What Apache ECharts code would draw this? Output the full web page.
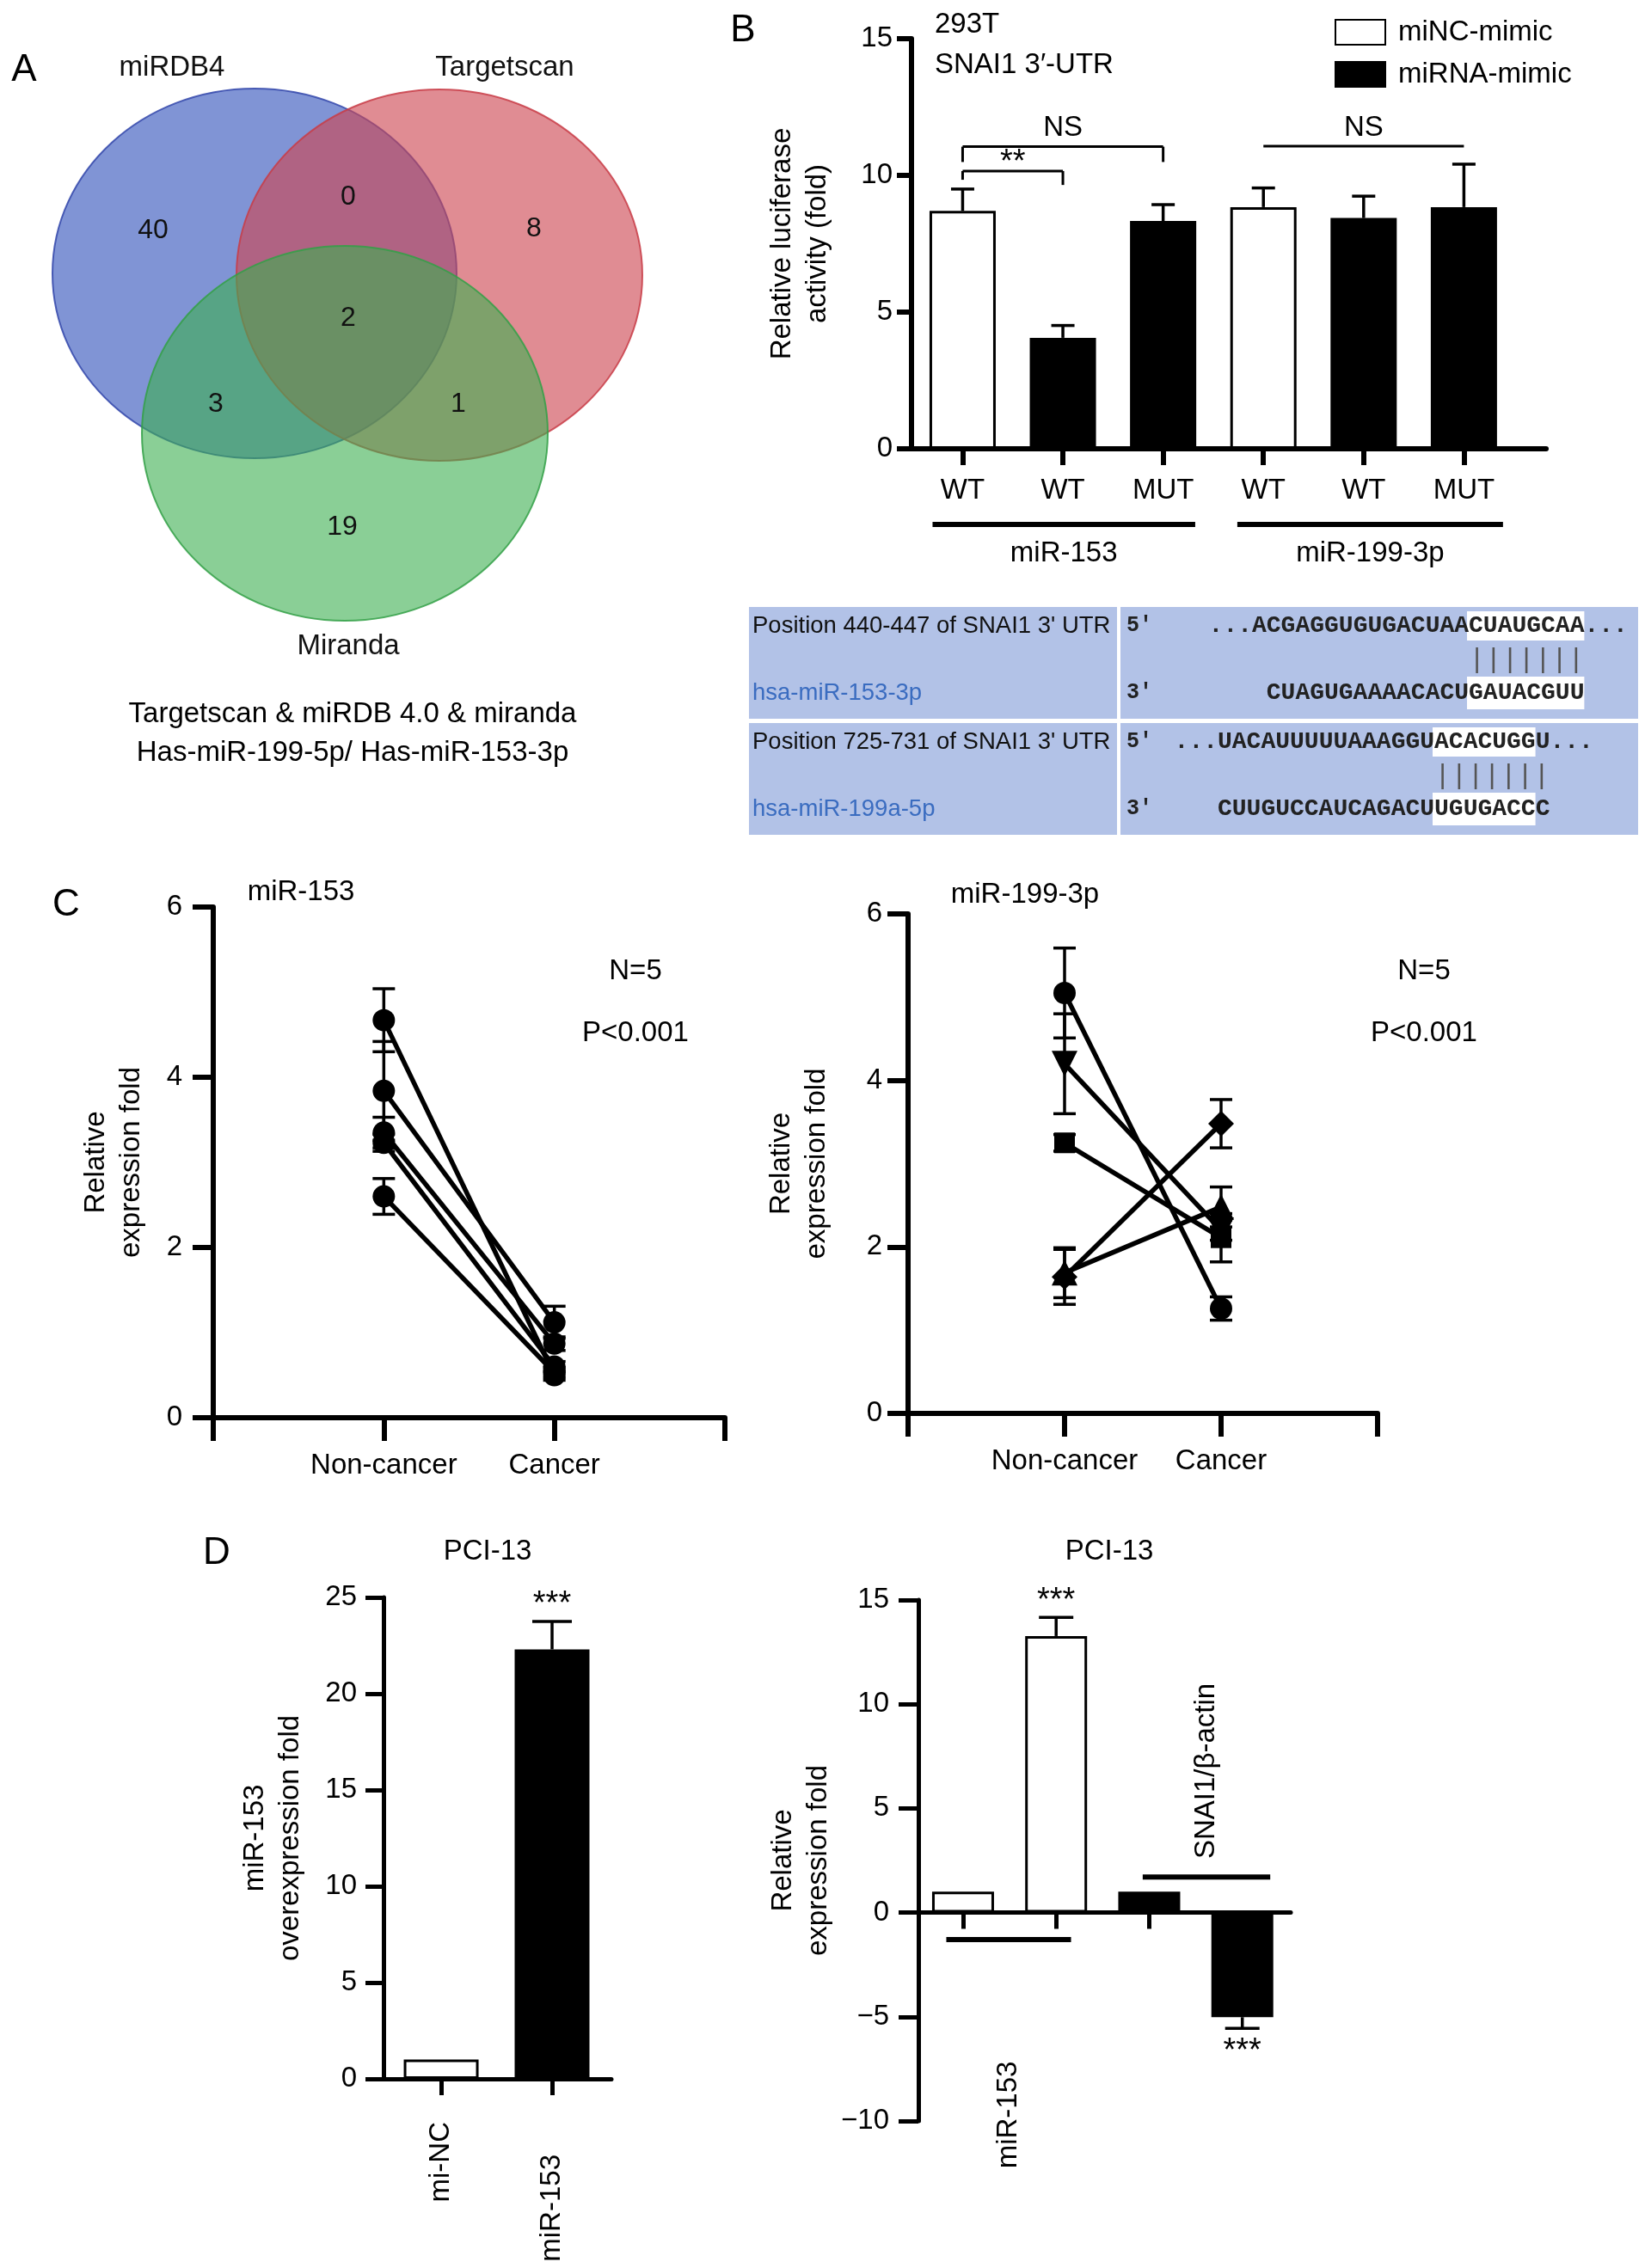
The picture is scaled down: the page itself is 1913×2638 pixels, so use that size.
<!DOCTYPE html>
<html><head><meta charset="utf-8">
<script src="https://cdn.jsdelivr.net/npm/echarts@6/dist/echarts.min.js"></script>
<style>html,body{margin:0;padding:0;background:#fff}#main{width:1913px;height:2638px}</style>
</head><body><div id="main"></div>
<script>
// ================= DATA =================
// Panel A (Venn)
const vennSets = ['miRDB4', 'Targetscan', 'Miranda'];
const vennRegions = ['miRDB4 only', 'miRDB4∩Targetscan', 'Targetscan only', 'all three', 'miRDB4∩Miranda', 'Targetscan∩Miranda', 'Miranda only'];
const vennCounts = [40, 0, 8, 2, 3, 1, 19];
const vennCaption = ['Targetscan & miRDB 4.0 & miranda', 'Has-miR-199-5p/ Has-miR-153-3p'];

// Panel B (luciferase)
const lucCategories = ['WT', 'WT', 'MUT', 'WT', 'WT', 'MUT'];
const lucSeriesNames = ['miNC-mimic', 'miRNA-mimic'];
const lucTreatment = [0, 1, 1, 0, 1, 1];
const lucValues = [8.70, 4.06, 8.33, 8.84, 8.44, 8.84];
const lucErrors = [0.80, 0.45, 0.60, 0.70, 0.80, 1.57];
const lucYTicks = [0, 5, 10, 15];
const lucGroups = ['miR-153', 'miR-199-3p'];
const lucGroupFrom = [-0.30, 2.74];
const lucGroupTo = [2.32, 5.39];
const lucSigText = ['**', 'NS', 'NS'];
const lucSigFrom = [0, 0, 3];
const lucSigTo = [1, 2, 5];
const lucSigLevel = [10.16, 11.05, 11.07];
const lucSigLegLeft = [9.84, 10.49, null];
const lucSigLegRight = [9.65, 10.49, null];

// Panel B (sequence table)
const seqRows = [
  { site: "Position 440-447 of SNAI1 3' UTR", mir: 'hsa-miR-153-3p',
    utrPre: '...ACGAGGUGUGACUAA', utrHl: 'CUAUGCAA', utrPost: '...',
    mirPre: 'CUAGUGAAAACACU', mirHl: 'GAUACGUU', mirPost: '', pairs: '|||||||' },
  { site: "Position 725-731 of SNAI1 3' UTR", mir: 'hsa-miR-199a-5p',
    utrPre: '...UACAUUUUUAAAGGU', utrHl: 'ACACUGG', utrPost: 'U...',
    mirPre: 'CUUGUCCAUCAGACU', mirHl: 'UGUGACC', mirPost: 'C', pairs: '|||||||' }
];

// Panel C
const exprCategories = ['Non-cancer', 'Cancer'];
const exprYTicks = [0, 2, 4, 6];
const c153NonCancer = [4.67, 3.84, 3.35, 3.23, 2.60];
const c153Cancer = [0.50, 1.12, 0.87, 0.60, 0.53];
const c153NonCancerErr = [0.37, 0.58, 0.18, 0.10, 0.21];
const c153CancerErr = [0.06, 0.19, 0.08, 0.06, 0.06];
const c199NonCancer = [5.05, 4.20, 3.25, 1.64, 1.69];
const c199Cancer = [1.26, 2.20, 2.11, 3.48, 2.48];
const c199NonCancerErr = [0.54, 0.60, 0.10, 0.33, 0.30];
const c199CancerErr = [0.14, 0.12, 0.29, 0.29, 0.24];

// Panel D
const pciOverCategories = ['mi-NC', 'miR-153'];
const pciOverValues = [1.0, 22.3];
const pciOverErrors = [0, 1.45];
const pciOverSig = ['', '***'];
const pciOverYTicks = [0, 5, 10, 15, 20, 25];
const pciExprGroups = ['miR-153', 'SNAI1/β-actin'];
const pciExprGroupOf = [0, 0, 1, 1];
const pciExprValues = [1.0, 13.27, 1.0, -5.02];
const pciExprErrors = [0, 0.89, 0, 0.54];
const pciExprSig = ['', '***', '', '***'];
const pciExprYTicks = [-10, -5, 0, 5, 10, 15];
const pciExprGroupFrom = [-0.18, 1.93];
const pciExprGroupTo = [1.16, 3.30];
const pciExprGroupLevel = [-1.3, 1.71];
const pciExprGroupLabelLevel = [-9.71, 6.79];

// ================= STYLE / LAYOUT =================
const FONT = "'Liberation Sans', Arial, Helvetica, sans-serif";
const MONO = "'Liberation Mono', 'DejaVu Sans Mono', monospace";
const FS = 33;
const vennLayout = {
  ellipses: [[296, 318, 235, 215], [511, 320, 236, 216], [401, 504, 236, 218]],
  fills: ['rgba(60,90,190,0.65)', 'rgba(205,70,80,0.62)', 'rgba(60,175,80,0.6)'],
  strokes: ['rgba(50,70,170,0.85)', 'rgba(200,60,70,0.85)', 'rgba(50,160,70,0.85)'],
  countPos: [[178, 268], [405, 229], [621, 266], [405, 370], [251, 470], [533, 470], [398, 613]],
  labelPos: [[200, 79], [587, 79], [405, 752]],
  captionY: [831, 876], captionX: 410
};

const chart = echarts.init(document.getElementById('main'), null, { renderer: 'canvas', width: 1913, height: 2638 });

function yAxisCfg(gi, ticks, name, nameGap, margin, tickLen, lw) {
  return {
    type: 'value', gridIndex: gi, min: ticks[0], max: ticks[ticks.length - 1], interval: ticks[1] - ticks[0],
    axisLine: { show: true, onZero: false, lineStyle: { color: '#000', width: lw } },
    axisTick: { show: true, inside: false, length: tickLen, lineStyle: { color: '#000', width: lw } },
    axisLabel: { color: '#000', fontSize: FS, fontFamily: FONT, margin: margin,
      formatter: v => String(v).replace('-', '\u2212') },
    splitLine: { show: false },
    name: name, nameLocation: 'middle', nameGap: nameGap, nameRotate: 90,
    nameTextStyle: { color: '#000', fontSize: FS, fontFamily: FONT, lineHeight: 41 }
  };
}
function xAxisCfg(gi, min, max, tickVals, labelVals, formatter, margin, tickLen, lw, extraLabel) {
  return {
    type: 'value', gridIndex: gi, min: min, max: max,
    axisLine: { show: true, lineStyle: { color: '#000', width: lw } },
    axisTick: { show: true, inside: false, length: tickLen, customValues: tickVals, lineStyle: { color: '#000', width: lw } },
    axisLabel: Object.assign({ show: labelVals.length > 0, customValues: labelVals, formatter: formatter,
      color: '#000', fontSize: FS, fontFamily: FONT, margin: margin }, extraLabel || {}),
    splitLine: { show: false }
  };
}
function hiddenAxis(gi, min, max, inverse) {
  return { type: 'value', gridIndex: gi, min, max, inverse: !!inverse, show: false,
    axisLine: { show: false }, axisTick: { show: false }, axisLabel: { show: false }, splitLine: { show: false } };
}

function errSeries(gi, points, o) {
  // points: [x, value, errUp, errDown]
  return {
    type: 'custom', xAxisIndex: gi, yAxisIndex: gi, clip: false, z: o.z || 2, silent: true,
    data: points,
    renderItem(params, api) {
      const x = api.value(0), v = api.value(1), eu = api.value(2), ed = api.value(3);
      const p = api.coord([x, v]);
      const half = o.cap / 2;
      const st = { stroke: '#000', lineWidth: o.lw, fill: null };
      const ch = [];
      let top = p[1], bot = p[1];
      if (eu > 0) {
        const q = api.coord([x, v + eu]); top = q[1];
        ch.push({ type: 'line', shape: { x1: p[0], y1: p[1], x2: q[0], y2: q[1] }, style: st });
        ch.push({ type: 'line', shape: { x1: q[0] - half, y1: q[1], x2: q[0] + half, y2: q[1] }, style: st });
      }
      if (ed > 0) {
        const q = api.coord([x, v - ed]); bot = q[1];
        ch.push({ type: 'line', shape: { x1: p[0], y1: p[1], x2: q[0], y2: q[1] }, style: st });
        ch.push({ type: 'line', shape: { x1: q[0] - half, y1: q[1], x2: q[0] + half, y2: q[1] }, style: st });
      }
      const s = o.sig ? o.sig[params.dataIndex] : '';
      if (s) {
        if (v >= 0) ch.push({ type: 'text', x: p[0], y: top - o.sigGap, style: { text: s, fontSize: o.sigSize, fontFamily: FONT, fill: '#000', align: 'center', verticalAlign: 'bottom' } });
        else ch.push({ type: 'text', x: p[0], y: bot + o.sigGapBelow, style: { text: s, fontSize: o.sigSize, fontFamily: FONT, fill: '#000', align: 'center', verticalAlign: 'top' } });
      }
      return { type: 'group', children: ch };
    }
  };
}

// ---------- series ----------
const series = [];

// Venn ellipses
series.push({
  type: 'custom', xAxisIndex: 0, yAxisIndex: 0, clip: false, silent: true, z: 1,
  data: vennSets.map((n, i) => ({ name: n, value: vennLayout.ellipses[i] })),
  renderItem(params, api) {
    const i = params.dataIndex;
    const c = api.coord([api.value(0), api.value(1)]);
    const s = api.size([api.value(2), api.value(3)]);
    return { type: 'ellipse', shape: { cx: c[0], cy: c[1], rx: Math.abs(s[0]), ry: Math.abs(s[1]) },
      style: { fill: vennLayout.fills[i], stroke: vennLayout.strokes[i], lineWidth: 2 } };
  }
});
// Venn counts + set names
series.push({
  type: 'custom', xAxisIndex: 0, yAxisIndex: 0, clip: false, silent: true, z: 5,
  data: vennCounts.map((c, i) => ({ name: vennRegions[i], value: [vennLayout.countPos[i][0], vennLayout.countPos[i][1], c] })),
  renderItem(params, api) {
    const c = api.coord([api.value(0), api.value(1)]);
    return { type: 'text', x: c[0], y: c[1], style: { text: String(api.value(2)), fontSize: 32, fontFamily: FONT, fill: '#111', align: 'center', verticalAlign: 'middle' } };
  }
});
series.push({
  type: 'custom', xAxisIndex: 0, yAxisIndex: 0, clip: false, silent: true, z: 5,
  data: vennSets.map((n, i) => ({ name: n, value: vennLayout.labelPos[i] })),
  renderItem(params, api) {
    const c = api.coord([api.value(0), api.value(1)]);
    return { type: 'text', x: c[0], y: c[1], style: { text: vennSets[params.dataIndex], fontSize: FS, fontFamily: FONT, fill: '#111', align: 'center', verticalAlign: 'middle' } };
  }
});

// Panel B bars
lucSeriesNames.forEach((name, s) => {
  series.push({
    type: 'bar', name: name, xAxisIndex: 1, yAxisIndex: 1, barWidth: 77, barGap: '-100%', z: 3,
    itemStyle: { color: s === 0 ? '#fff' : '#000', borderColor: '#000', borderWidth: 3 },
    data: lucValues.map((v, i) => [i, v]).filter((d, i) => lucTreatment[i] === s),
    silent: true
  });
});
series.push(errSeries(1, lucValues.map((v, i) => [i, v, lucErrors[i], 0]), { cap: 27, lw: 3.5 }));
// significance brackets
series.push({
  type: 'custom', xAxisIndex: 1, yAxisIndex: 1, clip: false, silent: true, z: 4,
  data: lucSigText.map((t, i) => [lucSigFrom[i], lucSigTo[i], lucSigLevel[i]]),
  renderItem(params, api) {
    const i = params.dataIndex;
    const a = api.coord([api.value(0), api.value(2)]), b = api.coord([api.value(1), api.value(2)]);
    const st = { stroke: '#000', lineWidth: 3, fill: null };
    const ch = [{ type: 'line', shape: { x1: a[0], y1: a[1], x2: b[0], y2: b[1] }, style: st }];
    if (lucSigLegLeft[i] != null) {
      const l = api.coord([api.value(0), lucSigLegLeft[i]]);
      ch.push({ type: 'line', shape: { x1: a[0], y1: a[1], x2: l[0], y2: l[1] }, style: st });
    }
    if (lucSigLegRight[i] != null) {
      const r = api.coord([api.value(1), lucSigLegRight[i]]);
      ch.push({ type: 'line', shape: { x1: b[0], y1: b[1], x2: r[0], y2: r[1] }, style: st });
    }
    const isStar = lucSigText[i].indexOf('*') >= 0;
    ch.push({ type: 'text', x: (a[0] + b[0]) / 2, y: a[1] + (isStar ? 10 : -5), style: { text: lucSigText[i], fontSize: isStar ? 38 : FS, fontFamily: FONT, fill: '#000', align: 'center', verticalAlign: 'bottom' } });
    return { type: 'group', children: ch };
  }
});
// group lines under x labels
series.push({
  type: 'custom', xAxisIndex: 1, yAxisIndex: 1, clip: false, silent: true, z: 4,
  data: lucGroups.map((g, i) => [lucGroupFrom[i], lucGroupTo[i]]),
  renderItem(params, api) {
    const a = api.coord([api.value(0), 0]), b = api.coord([api.value(1), 0]);
    const y = a[1] + 88;
    return { type: 'group', children: [
      { type: 'line', shape: { x1: a[0], y1: y, x2: b[0], y2: y }, style: { stroke: '#000', lineWidth: 6 } },
      { type: 'text', x: (a[0] + b[0]) / 2, y: y + 34, style: { text: lucGroups[params.dataIndex], fontSize: FS, fontFamily: FONT, fill: '#000', align: 'center', verticalAlign: 'middle' } }
    ] };
  }
});

// Panel C left
c153NonCancer.forEach((v, i) => {
  series.push({ type: 'line', xAxisIndex: 2, yAxisIndex: 2, z: 3, silent: true,
    symbol: 'circle', symbolSize: 26, lineStyle: { color: '#000', width: 5.5 }, itemStyle: { color: '#000' },
    data: [[1, v], [2, c153Cancer[i]]] });
});
series.push(errSeries(2, c153NonCancer.map((v, i) => [1, v, c153NonCancerErr[i], c153NonCancerErr[i]])
  .concat(c153Cancer.map((v, i) => [2, v, c153CancerErr[i], c153CancerErr[i]])), { cap: 26, lw: 3.5 }));

// Panel C right
const c199Marks = [['circle', 0, 26], ['triangle', 180, 30], ['rect', 0, 24], ['diamond', 0, 30], ['triangle', 0, 30]];
c199NonCancer.forEach((v, i) => {
  series.push({ type: 'line', xAxisIndex: 3, yAxisIndex: 3, z: 3, silent: true,
    symbol: c199Marks[i][0], symbolRotate: c199Marks[i][1], symbolSize: c199Marks[i][2],
    lineStyle: { color: '#000', width: 5.5 }, itemStyle: { color: '#000' },
    data: [[1, v], [2, c199Cancer[i]]] });
});
series.push(errSeries(3, c199NonCancer.map((v, i) => [1, v, c199NonCancerErr[i], c199NonCancerErr[i]])
  .concat(c199Cancer.map((v, i) => [2, v, c199CancerErr[i], c199CancerErr[i]])), { cap: 26, lw: 3.5 }));

// Panel D left
pciOverCategories.forEach((n, i) => {
  series.push({ type: 'bar', name: n, xAxisIndex: 4, yAxisIndex: 4, barWidth: 87, barGap: '-100%', z: 3, silent: true,
    itemStyle: { color: i === 0 ? '#fff' : '#000', borderColor: '#000', borderWidth: 3 },
    data: [[i, pciOverValues[i]]] });
});
series.push(errSeries(4, pciOverValues.map((v, i) => [i, v, pciOverErrors[i], 0]),
  { cap: 46, lw: 3.5, sig: pciOverSig, sigGap: 0, sigSize: 38 }));

// Panel D right
pciExprGroups.forEach((g, gi) => {
  series.push({ type: 'bar', name: g, xAxisIndex: 5, yAxisIndex: 5, barWidth: 72, barGap: '-100%', z: 3, silent: true,
    itemStyle: { color: gi === 0 ? '#fff' : '#000', borderColor: '#000', borderWidth: 3 },
    data: pciExprValues.map((v, i) => [i, v]).filter((d, i) => pciExprGroupOf[i] === gi) });
});
series.push(errSeries(5, pciExprValues.map((v, i) => v >= 0 ? [i, v, pciExprErrors[i], 0] : [i, v, 0, pciExprErrors[i]]),
  { cap: 40, lw: 3.5, sig: pciExprSig, sigGap: 0, sigGapBelow: 8, sigSize: 38 }));
series.push({
  type: 'custom', xAxisIndex: 5, yAxisIndex: 5, clip: false, silent: true, z: 4,
  data: pciExprGroups.map((g, i) => [pciExprGroupFrom[i], pciExprGroupTo[i], pciExprGroupLevel[i], pciExprGroupLabelLevel[i]]),
  renderItem(params, api) {
    const a = api.coord([api.value(0), api.value(2)]), b = api.coord([api.value(1), api.value(2)]);
    const l = api.coord([(api.value(0) + api.value(1)) / 2, api.value(3)]);
    return { type: 'group', children: [
      { type: 'line', shape: { x1: a[0], y1: a[1], x2: b[0], y2: b[1] }, style: { stroke: '#000', lineWidth: 6 } },
      { type: 'text', x: l[0], y: l[1], rotation: Math.PI / 2,
        style: { text: pciExprGroups[params.dataIndex], fontSize: FS, fontFamily: FONT, fill: '#000', align: 'center', verticalAlign: 'middle' } }
    ] };
  }
});

// ---------- graphic (free text + sequence table) ----------
const graphics = [];
function txt(x, y, text, o) {
  o = o || {};
  graphics.push({ type: 'text', x, y, rotation: o.rotation || 0, silent: true, z: 10,
    style: { text, fontSize: o.size || FS, fontFamily: o.font || FONT, fill: o.color || '#000',
      align: o.align || 'center', verticalAlign: o.valign || 'middle', fontWeight: o.weight || 'normal' } });
}
txt(28, 82, 'A', { size: 44 }); txt(864, 36, 'B', { size: 44 }); txt(77, 1053, 'C', { size: 44 }); txt(252, 1807, 'D', { size: 44 });
vennCaption.forEach((c, i) => txt(vennLayout.captionX, vennLayout.captionY[i], c));
txt(1087, 29, '293T', { align: 'left' });
txt(1087, 76, 'SNAI1 3\u2032-UTR', { align: 'left' });
txt(350, 1038, 'miR-153'); txt(739, 1130, 'N=5'); txt(739, 1202, 'P<0.001');
txt(1192, 1041, 'miR-199-3p'); txt(1656, 1130, 'N=5'); txt(1656, 1202, 'P<0.001');
txt(567, 1805, 'PCI-13'); txt(1290, 1805, 'PCI-13');

// sequence table
const tbl = { x0: 871, xDiv: 1299, xR: 1303, x1: 1905, rowTops: [706, 841], rowH: 130, hlStart: [1708, 1668], fs: 28 };
const charW = tbl.fs * 0.6;
const TBG = '#b2c2e7';
seqRows.forEach((r, k) => {
  const top = tbl.rowTops[k];
  graphics.push({ type: 'rect', silent: true, z: 1, shape: { x: tbl.x0, y: top, width: tbl.xDiv - tbl.x0, height: tbl.rowH }, style: { fill: TBG } });
  graphics.push({ type: 'rect', silent: true, z: 1, shape: { x: tbl.xR, y: top, width: tbl.x1 - tbl.xR, height: tbl.rowH }, style: { fill: TBG } });
  const yTop = top + 22, yMid = top + 62, yBot = top + 100;
  txt(875, yTop, r.site, { align: 'left', size: 27.5, color: '#111' });
  txt(875, yBot, r.mir, { align: 'left', size: 27.5, color: '#3a6cc0' });
  txt(1310, yTop, "5'", { align: 'left', size: 25, font: MONO, weight: 'bold', color: '#222' });
  txt(1310, yBot, "3'", { align: 'left', size: 25, font: MONO, weight: 'bold', color: '#222' });
  const hs = tbl.hlStart[k];
  graphics.push({ type: 'rect', silent: true, z: 2, shape: { x: hs - 2, y: yTop - 17, width: r.utrHl.length * charW + 2, height: 34 }, style: { fill: '#fff' } });
  graphics.push({ type: 'rect', silent: true, z: 2, shape: { x: hs - 2, y: yBot - 19, width: r.mirHl.length * charW + 2, height: 38 }, style: { fill: '#fff' } });
  txt(hs - r.utrPre.length * charW, yTop, r.utrPre + r.utrHl + r.utrPost, { align: 'left', size: tbl.fs, font: MONO, weight: 'bold', color: '#222' });
  txt(hs - r.mirPre.length * charW, yBot, r.mirPre + r.mirHl + r.mirPost, { align: 'left', size: tbl.fs, font: MONO, weight: 'bold', color: '#222' });
  txt(hs, yMid, r.pairs, { align: 'left', size: tbl.fs + 4, font: MONO, color: '#555' });
});

const option = {
  backgroundColor: '#fff',
  animation: false,
  textStyle: { fontFamily: FONT },
  grid: [
    { left: 0, top: 0, width: 800, height: 900 },
    { left: 1060, top: 45, width: 738, height: 477 },
    { left: 248, top: 1055, width: 595, height: 594 },
    { left: 1056, top: 1063, width: 546, height: 581 },
    { left: 446, top: 1858, width: 265, height: 560 },
    { left: 1068, top: 1861, width: 433, height: 606 }
  ],
  xAxis: [
    hiddenAxis(0, 0, 800),
    xAxisCfg(1, -0.51, 5.82, [0, 1, 2, 3, 4, 5], [0, 1, 2, 3, 4, 5], v => lucCategories[Math.round(v)], 32, 19, 6),
    xAxisCfg(2, 0, 3, [0, 1, 2, 3], [1, 2], v => exprCategories[Math.round(v) - 1], 39, 27, 6),
    xAxisCfg(3, 0, 3, [0, 1, 2, 3], [1, 2], v => exprCategories[Math.round(v) - 1], 39, 27, 6),
    xAxisCfg(4, -0.52, 1.535, [0, 1], [0, 1], v => Math.round(v) === 0 ? '{a|' + pciOverCategories[0] + '}' : '{b|' + pciOverCategories[1] + '}', 50, 19, 5,
      { rotate: 90, rich: { a: { fontSize: FS, fontFamily: FONT }, b: { fontSize: FS, fontFamily: FONT, padding: [0, 38, 0, 0] } } }),
    xAxisCfg(5, -0.48, 3.52, [0, 1, 2], [], null, 10, 19, 5)
  ],
  yAxis: [
    hiddenAxis(0, 0, 900, true),
    yAxisCfg(1, lucYTicks, 'Relative luciferase\nactivity (fold)', 89, 22, 17, 6),
    yAxisCfg(2, exprYTicks, 'Relative\nexpression fold', 75, 36, 24, 6),
    yAxisCfg(3, exprYTicks, 'Relative\nexpression fold', 86, 30, 24, 6),
    yAxisCfg(4, pciOverYTicks, 'miR-153\noverexpression fold', 88, 31, 21, 5),
    yAxisCfg(5, pciExprYTicks, 'Relative\nexpression fold', 96, 34, 23, 5)
  ],
  legend: {
    data: lucSeriesNames, left: 1547, top: 16, orient: 'vertical', itemWidth: 58, itemHeight: 29, itemGap: 16,
    icon: 'rect', selectedMode: false,
    textStyle: { fontSize: FS, fontFamily: FONT, color: '#000', padding: [0, 0, 0, 10] }
  },
  series: series,
  graphic: graphics
};
chart.setOption(option);
</script>
</body></html>
